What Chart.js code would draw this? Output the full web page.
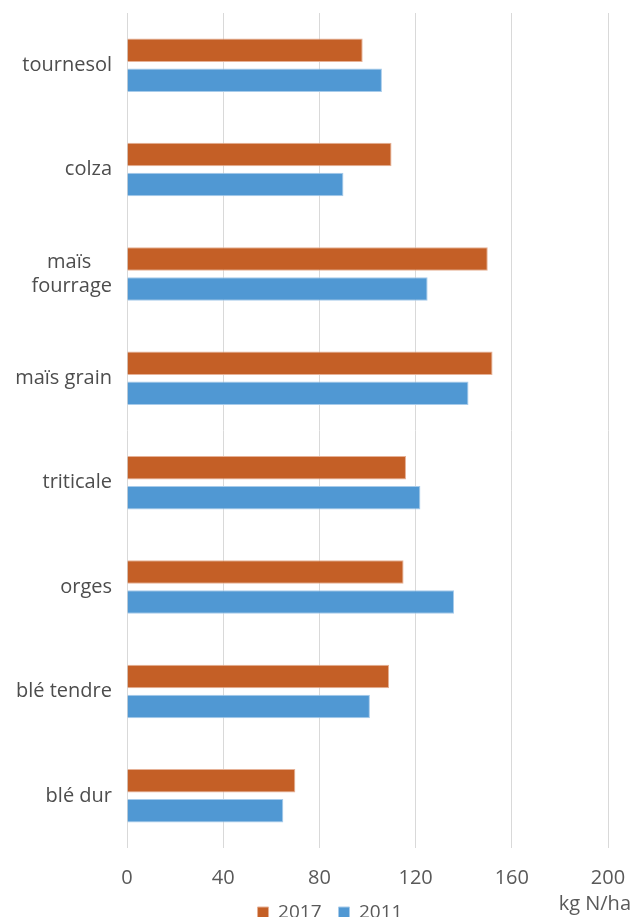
<!DOCTYPE html>
<html>
<head>
<meta charset="utf-8">
<script src="https://cdn.jsdelivr.net/npm/chart.js@4.4.1/dist/chart.umd.min.js"></script>
<style>
  html, body { margin: 0; padding: 0; background: #ffffff; }
  #wrap { position: relative; width: 634px; height: 917px; }
</style>
</head>
<body>
<div id="wrap"><canvas id="chart"></canvas></div>
<script>
// Crops, top to bottom
const crops = [
  'tournesol',
  'colza',
  ['maïs\u00a0\u00a0\u00a0\u00a0', 'fourrage'],
  'maïs grain',
  'triticale',
  'orges',
  'blé tendre',
  'blé dur'
];
// Nitrogen dose, kg N/ha
const dose2017 = [98, 110, 150, 152, 116, 115, 109, 70];
const dose2011 = [106, 90, 125, 142, 122, 136, 101, 65];
const xTicks = [0, 40, 80, 120, 160, 200];
const unitLabel = 'kg N/ha';

const FONT = "'Open Sans', 'Noto Sans', sans-serif";

// Unit caption in the bottom-right corner, beside the legend;
// the legend itself sits a little right of the canvas centre.
const unitPlugin = {
  id: 'unitLabel',
  afterLayout(chart) {
    const lg = chart.legend;
    if (lg) { lg.left += 26; lg.right += 26; }
  },
  afterDraw(chart) {
    const ctx = chart.ctx;
    ctx.save();
    ctx.font = '20px ' + FONT;
    ctx.fillStyle = '#595959';
    ctx.textAlign = 'right';
    ctx.textBaseline = 'middle';
    ctx.fillText(unitLabel, chart.width - 3, chart.height - 13);
    ctx.restore();
  }
};

const barStyle = { borderWidth: 1, categoryPercentage: 0.575, barPercentage: 0.78 };

new Chart(document.getElementById('chart'), {
  type: 'bar',
  data: {
    labels: crops,
    datasets: [
      Object.assign({ label: '2017', data: dose2017, backgroundColor: '#C45F26', borderColor: '#E6B196' }, barStyle),
      Object.assign({ label: '2011', data: dose2011, backgroundColor: '#5098D3', borderColor: '#A7CBEA' }, barStyle)
    ]
  },
  options: {
    indexAxis: 'y',
    responsive: true,
    maintainAspectRatio: false,
    animation: false,
    layout: { padding: { top: 13, right: 26, left: 0, bottom: -15 } },
    scales: {
      x: {
        min: 0,
        max: 200,
        afterBuildTicks(scale) { scale.ticks = xTicks.map(v => ({ value: v })); },
        afterFit(scale) {
          scale.height = 38;
          scale.paddingLeft = 0;
          scale.paddingRight = 0;
        },
        grid: { display: true, color: '#D9D9D9', lineWidth: 1, drawTicks: false },
        border: { display: false },
        ticks: { padding: 18, color: '#595959', font: { family: FONT, size: 20 } }
      },
      y: {
        grid: { display: false, drawTicks: false },
        border: { display: false },
        afterFit(scale) {
          scale.width = 127;
          scale.paddingTop = 0;
          scale.paddingBottom = 0;
        },
        ticks: { padding: 15, color: '#4D4D4D', font: { family: FONT, size: 20 }, autoSkip: false }
      }
    },
    plugins: {
      legend: {
        position: 'bottom',
        labels: {
          boxWidth: 11,
          boxHeight: 11,
          padding: 17,
          color: '#595959',
          font: { family: FONT, size: 19 }
        }
      },
      tooltip: { enabled: false }
    }
  },
  plugins: [unitPlugin]
});
</script>
</body>
</html>
